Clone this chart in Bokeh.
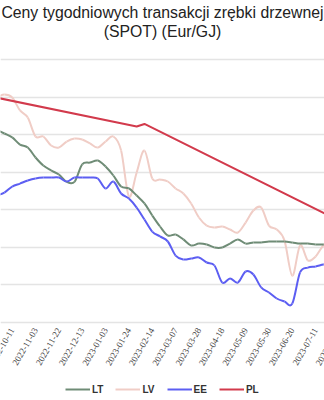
import math
from bokeh.plotting import figure
from bokeh.models import (Range1d, FixedTicker, Legend, LegendItem, ColumnDataSource,
                          LabelSet, Label)
from bokeh.embed import file_html
from bokeh.resources import INLINE

dates = [
    "2022-09-27", "2022-10-04", "2022-10-11", "2022-10-18", "2022-10-25", "2022-11-03",
    "2022-11-08", "2022-11-15", "2022-11-22", "2022-11-29", "2022-12-06", "2022-12-13",
    "2022-12-20", "2022-12-27", "2023-01-03", "2023-01-10", "2023-01-17", "2023-01-24",
    "2023-01-31", "2023-02-07", "2023-02-14", "2023-02-21", "2023-02-28", "2023-03-07",
    "2023-03-14", "2023-03-21", "2023-03-28", "2023-04-04", "2023-04-11", "2023-04-18",
    "2023-04-25", "2023-05-02", "2023-05-09", "2023-05-16", "2023-05-23", "2023-05-30",
    "2023-06-06", "2023-06-13", "2023-06-20", "2023-06-27", "2023-07-04", "2023-07-11",
    "2023-07-18", "2023-07-25", "2023-08-01",
]

lt = [12.29, 12.08, 11.87, 11.49, 11.33, 10.80, 10.37, 10.11, 9.89, 9.50, 9.50, 10.43,
      10.53, 10.64, 10.32, 9.84, 9.25, 9.15, 8.77, 8.35, 7.71, 7.12, 6.64, 6.69,
      6.43, 6.11, 6.21, 6.16, 6.00, 6.00, 6.21, 6.43, 6.21, 6.27, 6.27, 6.32,
      6.32, 6.32, 6.27, 6.21, 6.21, 6.16, 6.16, 6.11, 6.11]

lv = [14.00, 14.16, 14.00, 13.31, 12.93, 11.92, 11.92, 11.44, 11.33, 11.65, 11.81, 11.76,
      11.55, 11.33, 11.65, 11.92, 11.17, 8.72, 10.00, 11.17, 9.68, 9.63, 9.52, 9.15,
      8.88, 8.35, 7.60, 7.17, 7.07, 7.12, 6.96, 6.80, 7.33, 7.97, 8.13, 7.17,
      6.96, 6.37, 4.50, 6.11, 5.31, 5.52, 6.11, 6.27, 6.27]

ee = [8.77, 8.93, 9.25, 9.41, 9.57, 9.68, 9.73, 9.73, 9.73, 9.52, 9.73, 9.73,
      9.73, 9.68, 9.15, 9.52, 8.88, 8.61, 8.13, 7.49, 6.85, 6.59, 6.32, 5.57,
      5.36, 5.41, 5.47, 5.20, 5.04, 4.13, 4.35, 4.13, 4.72, 4.56, 3.87, 3.60,
      3.28, 3.12, 3.01, 4.67, 4.93, 4.99, 5.09, 5.15, 5.20]

pl_dates = ["2022-09-27", "2023-01-31", "2023-02-07", "2023-08-01"]
pl = [13.99, 12.45, 12.59, 7.44]

tick_labels = ["2022-10-11", "2022-11-03", "2022-11-22", "2022-12-13", "2023-01-03",
               "2023-01-24", "2023-02-14", "2023-03-07", "2023-03-28", "2023-04-18",
               "2023-05-09", "2023-05-30", "2023-06-20", "2023-07-11", "2023-08-01"]
y_ticks = [2, 4, 6, 8, 10, 12, 14, 16]
title_lines = ["Ceny tygodniowych transakcji zrębki drzewnej", "(SPOT) (Eur/GJ)"]

xs = list(range(len(dates)))


def smooth_source(x, y):
    """Catmull-Rom style Bezier segments through the given data points."""
    n = len(x)
    d = dict(x0=[], y0=[], x1=[], y1=[], cx0=[], cy0=[], cx1=[], cy1=[])
    for i in range(n - 1):
        a = i - 1 if i > 0 else i
        b = i + 2 if i + 2 < n else i + 1
        d["x0"].append(x[i]); d["y0"].append(y[i])
        d["x1"].append(x[i + 1]); d["y1"].append(y[i + 1])
        d["cx0"].append(x[i] + (x[i + 1] - x[a]) / 6.0)
        d["cy0"].append(y[i] + (y[i + 1] - y[a]) / 6.0)
        d["cx1"].append(x[i + 1] - (x[b] - x[i]) / 6.0)
        d["cy1"].append(y[i + 1] - (y[b] - y[i]) / 6.0)
    return ColumnDataSource(d)


# The frame fills the whole 324x400 canvas; the chart's value band (2..16) sits
# between pixel rows ~60 and ~322, with title above and labels/legend below.
p = figure(frame_width=324, frame_height=400,
           output_backend="svg", toolbar_location=None,
           x_range=Range1d(0.496, 42.14), y_range=Range1d(-2.16, 19.173),
           min_border_left=0, min_border_right=0, min_border_top=0, min_border_bottom=0,
           title=None)
p.outline_line_color = None
p.background_fill_color = "white"
p.border_fill_color = "white"

p.yaxis.visible = False
p.xaxis.visible = False
p.xgrid.visible = False
p.ygrid.ticker = FixedTicker(ticks=y_ticks)
p.ygrid.grid_line_color = "#e4e4e4"
p.ygrid.grid_line_width = 1.5

seg = dict(x0="x0", y0="y0", x1="x1", y1="y1", cx0="cx0", cy0="cy0", cx1="cx1", cy1="cy1")
r_lv = p.bezier(source=smooth_source(xs, lv), line_color="#f0cdc6", line_width=2, **seg)
r_lt = p.bezier(source=smooth_source(xs, lt), line_color="#6f8c76", line_width=2, **seg)
r_ee = p.bezier(source=smooth_source(xs, ee), line_color="#5c5ef2", line_width=2, **seg)
pl_src = ColumnDataSource(dict(x=[dates.index(d) for d in pl_dates], y=pl))
r_pl = p.line("x", "y", source=pl_src, line_color="#d23a4c", line_width=2)

# x tick labels, rotated, hanging below the baseline gridline
tick_pos = [dates.index(d) for d in tick_labels]
lab_src = ColumnDataSource(dict(x=tick_pos, y=[y_ticks[0]] * len(tick_pos), text=tick_labels))
p.add_layout(LabelSet(x="x", y="y", text="text", source=lab_src, y_offset=-6,
                      angle=math.pi / 3, text_align="right", text_baseline="middle",
                      text_font="Liberation Sans", text_font_size="9px",
                      text_color="#444444"))

# title (two centred lines)
for line_text, sy in zip(title_lines, [388, 369]):
    p.add_layout(Label(x=162, y=sy, x_units="screen", y_units="screen", text=line_text,
                       text_align="center", text_baseline="middle",
                       text_font="Liberation Sans", text_font_size="15.8px",
                       text_color="#222222"))

legend = Legend(items=[LegendItem(label="LT", renderers=[r_lt]),
                       LegendItem(label="LV", renderers=[r_lv]),
                       LegendItem(label="EE", renderers=[r_ee]),
                       LegendItem(label="PL", renderers=[r_pl])],
                orientation="horizontal", location=(65, 5),
                label_text_font="Liberation Sans", label_text_font_size="10px",
                label_text_font_style="bold", label_text_color="#333333",
                glyph_width=25, glyph_height=12, label_standoff=2, spacing=12,
                padding=0, margin=0, border_line_color=None, background_fill_alpha=0,
                label_height=12, label_width=0)
p.add_layout(legend, "center")

open("out.html", "w").write(file_html(p, INLINE))
